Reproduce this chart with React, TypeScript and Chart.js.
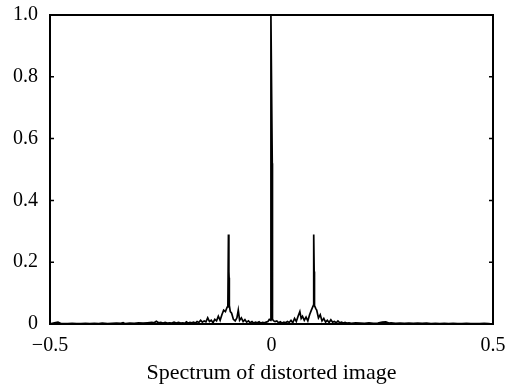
import React, { useEffect, useRef } from "react";
import { Chart, registerables } from "chart.js";

Chart.register(...registerables);

// Normalised frequency (x) and spectrum magnitude (y)
const freq = [
  -0.5, -0.49, -0.482, -0.474, -0.46, -0.45, -0.44, -0.43, -0.42, -0.41,
  -0.4, -0.39, -0.382, -0.37, -0.36, -0.35, -0.34, -0.335, -0.33, -0.32,
  -0.31, -0.3, -0.29, -0.28, -0.27, -0.265, -0.26, -0.255, -0.25, -0.245,
  -0.24, -0.235, -0.23, -0.225, -0.22, -0.215, -0.21, -0.205, -0.2, -0.196,
  -0.192, -0.188, -0.184, -0.18, -0.176, -0.172, -0.168, -0.164, -0.16, -0.156,
  -0.152, -0.148, -0.144, -0.14, -0.136, -0.132, -0.128, -0.124, -0.12, -0.116,
  -0.112, -0.108, -0.104, -0.1, -0.0985, -0.0972, -0.0962, -0.0957, -0.0952, -0.093, -0.09, -0.086,
  -0.082, -0.078, -0.075, -0.072, -0.068, -0.064, -0.06, -0.056, -0.052, -0.048,
  -0.044, -0.04, -0.036, -0.032, -0.028, -0.024, -0.02, -0.016, -0.012, -0.008,
  -0.005, -0.0018, -0.0013, 0.0017, 0.0022, 0.005, 0.008, 0.012, 0.016, 0.02, 0.024,
  0.028, 0.032, 0.036, 0.04, 0.044, 0.048, 0.052, 0.056, 0.06, 0.064,
  0.067, 0.07, 0.074, 0.078, 0.082, 0.086, 0.09, 0.0945, 0.0953, 0.0963, 0.0968, 0.0973,
  0.1, 0.102, 0.106, 0.11, 0.114, 0.118, 0.122, 0.126, 0.13, 0.134,
  0.138, 0.142, 0.146, 0.15, 0.154, 0.158, 0.162, 0.166, 0.17, 0.175,
  0.18, 0.19, 0.2, 0.21, 0.22, 0.23, 0.24, 0.25, 0.258, 0.265,
  0.27, 0.28, 0.29, 0.3, 0.31, 0.32, 0.33, 0.34, 0.35, 0.36,
  0.37, 0.38, 0.39, 0.4, 0.41, 0.42, 0.43, 0.44, 0.45, 0.46,
  0.47, 0.48, 0.49, 0.5,
];

const magnitude = [
  0.0, 0.004, 0.006, 0.001, 0.001, 0.002, 0.001, 0.001, 0.002, 0.001,
  0.002, 0.001, 0.003, 0.001, 0.002, 0.003, 0.002, 0.004, 0.001, 0.003,
  0.002, 0.004, 0.003, 0.004, 0.005, 0.004, 0.009, 0.004, 0.005, 0.003,
  0.005, 0.003, 0.004, 0.003, 0.006, 0.003, 0.005, 0.003, 0.004, 0.002,
  0.007, 0.003, 0.005, 0.004, 0.006, 0.003, 0.008, 0.005, 0.012, 0.006,
  0.01, 0.007, 0.02, 0.008, 0.012, 0.004, 0.015, 0.01, 0.025, 0.012,
  0.03, 0.045, 0.04, 0.055, 0.06, 0.29, 0.17, 0.15, 0.06, 0.04, 0.035, 0.015,
  0.01, 0.02, 0.045, 0.012, 0.02, 0.008, 0.014, 0.006, 0.01, 0.004,
  0.008, 0.003, 0.006, 0.004, 0.007, 0.003, 0.005, 0.004, 0.006, 0.008,
  0.015, 0.012, 1.0, 0.52, 0.015, 0.01, 0.008, 0.01, 0.004, 0.007, 0.003,
  0.006, 0.004, 0.008, 0.005, 0.012, 0.004, 0.018, 0.008, 0.025, 0.04,
  0.018, 0.025, 0.012, 0.022, 0.01, 0.03, 0.045, 0.06, 0.29, 0.17, 0.15, 0.06,
  0.05, 0.045, 0.02, 0.03, 0.01, 0.018, 0.006, 0.012, 0.005, 0.014,
  0.006, 0.008, 0.004, 0.01, 0.004, 0.006, 0.003, 0.005, 0.003, 0.004,
  0.002, 0.004, 0.003, 0.002, 0.004, 0.002, 0.003, 0.006, 0.007, 0.003,
  0.004, 0.002, 0.003, 0.002, 0.003, 0.002, 0.003, 0.002, 0.003, 0.001,
  0.002, 0.001, 0.002, 0.001, 0.002, 0.001, 0.001, 0.002, 0.001, 0.001,
  0.001, 0.002, 0.001, 0.0,
];

const xTicks = [-0.5, 0, 0.5];
const xTickLabels = ["\u22120.5", "0", "0.5"];
const yTicks = [0, 0.2, 0.4, 0.6, 0.8, 1.0];
const yTickLabels = ["0", "0.2", "0.4", "0.6", "0.8", "1.0"];
const xTitle = "Spectrum of distorted image";

const FONT = "'Liberation Serif', 'Times New Roman', serif";

const framePlugin = {
  id: "frame",
  afterDraw(chart: any) {
    const { ctx, chartArea: a, scales } = chart;
    ctx.save();
    ctx.strokeStyle = "#000";
    ctx.lineWidth = 1.5;
    for (const v of yTicks) {
      const y = scales.y.getPixelForValue(v);
      ctx.beginPath();
      ctx.moveTo(a.left, y);
      ctx.lineTo(a.left + 4, y);
      ctx.moveTo(a.right - 4, y);
      ctx.lineTo(a.right, y);
      ctx.stroke();
    }
    ctx.lineWidth = 2;
    ctx.strokeRect(a.left, a.top, a.right - a.left, a.bottom - a.top);
    ctx.restore();
  },
};

export default function App() {
  const ref = useRef<HTMLCanvasElement | null>(null);

  useEffect(() => {
    document.body.style.margin = "0";
    const canvas = ref.current;
    if (!canvas) return;
    const points = freq.map((x, i) => ({ x, y: magnitude[i] }));
    const chart = new Chart(canvas, {
      type: "scatter",
      data: {
        datasets: [
          {
            data: points,
            showLine: true,
            borderColor: "#000",
            backgroundColor: "#000",
            borderWidth: 1.7,
            pointRadius: 0,
            tension: 0,
          },
        ],
      },
      options: {
        responsive: false,
        animation: false,
        layout: { padding: { top: 15, right: 27, left: 0, bottom: 0 } },
        plugins: {
          legend: { display: false },
          tooltip: { enabled: false },
        },
        scales: {
          x: {
            type: "linear",
            min: -0.5,
            max: 0.5,
            grid: { display: false, drawTicks: false },
            border: { display: false },
            afterBuildTicks: (s: any) => {
              s.ticks = xTicks.map((v) => ({ value: v }));
            },
            afterFit: (s: any) => {
              s.height = 66;
              s.paddingLeft = 0;
              s.paddingRight = 0;
            },
            ticks: {
              color: "#000",
              padding: 10,
              maxRotation: 0,
              font: { family: FONT, size: 20 },
              callback: (v: any) => xTickLabels[xTicks.indexOf(Number(v))] ?? "",
            },
            title: {
              display: true,
              text: xTitle,
              color: "#000",
              font: { family: FONT, size: 22 },
              padding: { top: 0, bottom: 4 },
            },
          },
          y: {
            type: "linear",
            min: 0,
            max: 1,
            grid: { display: false, drawTicks: false },
            border: { display: false },
            afterBuildTicks: (s: any) => {
              s.ticks = yTicks.map((v) => ({ value: v }));
            },
            afterFit: (s: any) => {
              s.width = 50;
              s.paddingTop = 0;
              s.paddingBottom = 0;
            },
            ticks: {
              color: "#000",
              padding: 12,
              font: { family: FONT, size: 20 },
              callback: (v: any) => {
                const i = yTicks.findIndex((t) => Math.abs(t - Number(v)) < 1e-9);
                return i >= 0 ? yTickLabels[i] : "";
              },
            },
          },
        },
      },
      plugins: [framePlugin],
    });
    return () => chart.destroy();
  }, []);

  return (
    <div style={{ width: 520, height: 390, background: "#fff" }}>
      <canvas ref={ref} width={520} height={390} style={{ display: "block" }} />
    </div>
  );
}
